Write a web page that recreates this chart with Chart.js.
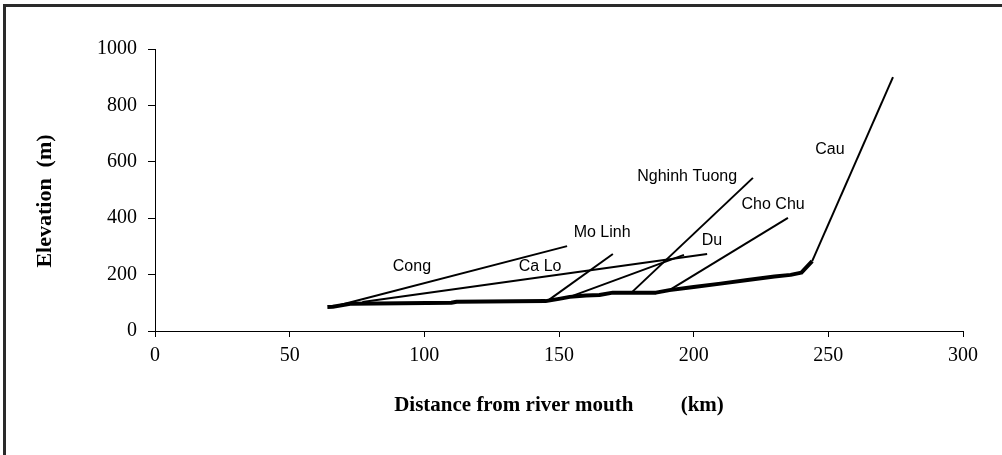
<!DOCTYPE html>
<html>
<head>
<meta charset="utf-8">
<script src="https://cdn.jsdelivr.net/npm/chart.js@4.4.1/dist/chart.umd.min.js"></script>
<style>
  html, body { margin: 0; padding: 0; background: #fff; }
  canvas { display: block; }
</style>
</head>
<body>
<canvas id="myChart" width="1002" height="455"></canvas>
<script>
// main channel profile (thick line)
const mainKm   = [64, 66, 73, 110, 112, 145, 150, 154, 160, 165, 170, 186, 191, 200, 210, 220, 230, 236, 240, 244];
const mainElev = [85, 86, 97, 100, 104, 106, 114, 121, 126, 128, 136, 136, 145, 156, 168, 181, 193, 199, 207, 248];

// tributaries: start on main channel, end upstream
const cauKm = [244, 274];          const cauElev = [248, 900];
const congKm = [68.7, 153];        const congElev = [92, 301];
const caloKm = [77, 205];          const caloElev = [103, 273];
const molinhKm = [145.6, 170];     const molinhElev = [106, 273];
const duKm = [154, 196.4];         const duElev = [121, 270];
const nghinhKm = [177, 222];       const nghinhElev = [137, 543];
const chochuKm = [191, 235];       const chochuElev = [145, 401];

// river names and where their labels sit (km, m)
const riverNames = ["Cong", "Ca Lo", "Mo Linh", "Du", "Nghinh Tuong", "Cho Chu", "Cau"];
const labelKm    = [95.4, 143, 166, 206.8, 197.6, 229.5, 250.6];
const labelElev  = [227, 230, 348, 319, 546, 447, 642];

const xTicks = [0, 50, 100, 150, 200, 250, 300];
const yTicks = [0, 200, 400, 600, 800, 1000];

function toPoints(km, elev) {
  return km.map((x, i) => ({ x: x, y: elev[i] }));
}

function line(km, elev, width) {
  return {
    data: toPoints(km, elev),
    showLine: true,
    borderColor: "#000",
    backgroundColor: "#000",
    borderWidth: width,
    pointRadius: 0,
    tension: 0,
    borderJoinStyle: "round"
  };
}

const frame = {
  id: "frame",
  beforeDraw(chart) {
    const ctx = chart.ctx;
    ctx.save();
    ctx.fillStyle = "#fff";
    ctx.fillRect(0, 0, chart.width, chart.height);
    ctx.fillStyle = "#2a2a2a";
    ctx.fillRect(3, 4, chart.width - 3, 3);
    ctx.fillRect(3, 4, 3, chart.height - 4);
    ctx.restore();
  }
};

const riverLabels = {
  id: "riverLabels",
  afterDatasetsDraw(chart) {
    const ctx = chart.ctx;
    const xs = chart.scales.x, ys = chart.scales.y;
    ctx.save();
    ctx.font = '16px "Liberation Sans", Arial, sans-serif';
    ctx.fillStyle = "#000";
    ctx.textAlign = "center";
    ctx.textBaseline = "middle";
    riverNames.forEach((name, i) => {
      ctx.fillText(name, xs.getPixelForValue(labelKm[i]), ys.getPixelForValue(labelElev[i]));
    });
    ctx.restore();
  }
};

const serif = '"Liberation Serif", "Times New Roman", serif';
const tickFont = { family: serif, size: 20 };

new Chart(document.getElementById("myChart"), {
  type: "scatter",
  data: {
    datasets: [
      line(mainKm, mainElev, 4),
      line(cauKm, cauElev, 2),
      line(congKm, congElev, 2),
      line(caloKm, caloElev, 2),
      line(molinhKm, molinhElev, 2),
      line(duKm, duElev, 2),
      line(nghinhKm, nghinhElev, 2),
      line(chochuKm, chochuElev, 2)
    ]
  },
  options: {
    responsive: false,
    animation: false,
    devicePixelRatio: 1,
    layout: { padding: { left: 0, right: 39, top: 49, bottom: 0 } },
    plugins: { legend: { display: false }, tooltip: { enabled: false } },
    scales: {
      x: {
        type: "linear",
        min: 0, max: 300,
        afterBuildTicks: s => { s.ticks = xTicks.map(v => ({ value: v })); },
        afterFit: s => { s.height = 124; },
        grid: { drawOnChartArea: false, drawTicks: true, tickLength: 6, color: "#000" },
        border: { display: true, color: "#000", width: 1 },
        ticks: { color: "#000", font: tickFont, padding: 7, maxRotation: 0, callback: v => String(v) },
        title: {
          display: true,
          text: "Distance from river mouth         (km)",
          color: "#000",
          font: { family: serif, size: 21, weight: "bold" },
          padding: { top: 0, bottom: 37 }
        }
      },
      y: {
        type: "linear",
        min: 0, max: 1000,
        afterBuildTicks: s => { s.ticks = yTicks.map(v => ({ value: v })); },
        afterFit: s => { s.width = 155; },
        grid: { drawOnChartArea: false, drawTicks: true, tickLength: 7, color: "#000" },
        border: { display: true, color: "#000", width: 1 },
        ticks: { color: "#000", font: tickFont, padding: 11, callback: v => String(v) },
        title: {
          display: true,
          text: "Elevation  (m)    ",
          color: "#000",
          font: { family: serif, size: 22, weight: "bold" },
          padding: { top: 32, bottom: 0 }
        }
      }
    }
  },
  plugins: [frame, riverLabels]
});
</script>
</body>
</html>
